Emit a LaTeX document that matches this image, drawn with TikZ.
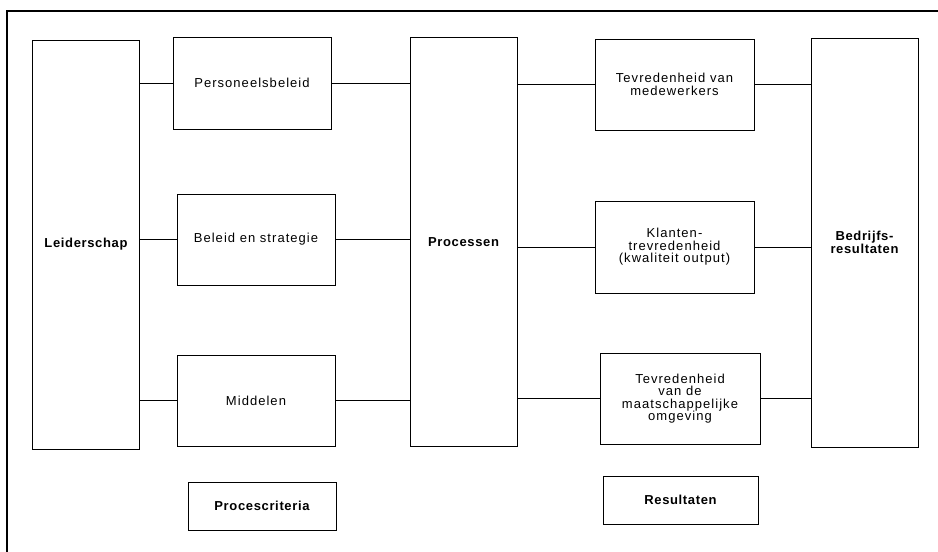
\documentclass[tikz,border=0pt]{standalone}
\usepackage{fontspec}
\setmainfont{Liberation Sans}[LetterSpace=8,BoldFeatures={LetterSpace=5}]
\begin{document}
\begin{tikzpicture}[x=1pt,y=-1pt,
  box/.style={draw,line width=0.9pt,inner sep=0pt,align=center,
    font=\fontsize{13}{12.5}\selectfont},
  tall/.style={box,minimum width=107,minimum height=409,font=\fontsize{13}{12.5}\selectfont\bfseries},
  label/.style={box,font=\fontsize{13}{12.5}\selectfont\bfseries},
  link/.style={line width=0.9pt}]
\useasboundingbox (0,0) rectangle (938,552);
% page frame (top and left edges)
\draw[line width=1.1pt] (938,11) -- (7,11) -- (7,552);

% tall columns
\node[tall] (lead) at (86,244.5) {Leiderschap};
\node[tall] (proc) at (463.5,242) {Processen};
\node[tall] (bres) at (864.5,242.5) {Bedrijfs-\\resultaten};

% enablers
\node[box,minimum width=158,minimum height=92] (pers) at (252,83) {Personeelsbeleid};
\node[box,minimum width=158,minimum height=91] (beleid) at (256,239.5) {Beleid en strategie};
\node[box,minimum width=158,minimum height=91] (midd) at (256,400.5) {Middelen};

% results
\node[box,minimum width=159,minimum height=91] (tmed) at (674.5,84.5) {Tevredenheid van\\medewerkers};
\node[box,minimum width=159,minimum height=92] (klant) at (674.5,247) {Klanten-\\trevredenheid\\(kwaliteit output)};
\node[box,minimum width=160,minimum height=91] (maat) at (680,398.5) {Tevredenheid\\van de\\maatschappelijke\\omgeving};

% group labels
\node[label,minimum width=148,minimum height=48] (pcrit) at (262,506) {Procescriteria};
\node[label,minimum width=155,minimum height=48] (res) at (680.5,500) {Resultaten};

% connectors
\foreach \n in {pers,beleid,midd}{
  \draw[link] (\n.west) -- (\n.west -| lead.east);
  \draw[link] (\n.east) -- (\n.east -| proc.west);
}
\foreach \n in {tmed,klant,maat}{
  \draw[link] (\n.west) -- (\n.west -| proc.east);
  \draw[link] (\n.east) -- (\n.east -| bres.west);
}
\end{tikzpicture}
\end{document}
